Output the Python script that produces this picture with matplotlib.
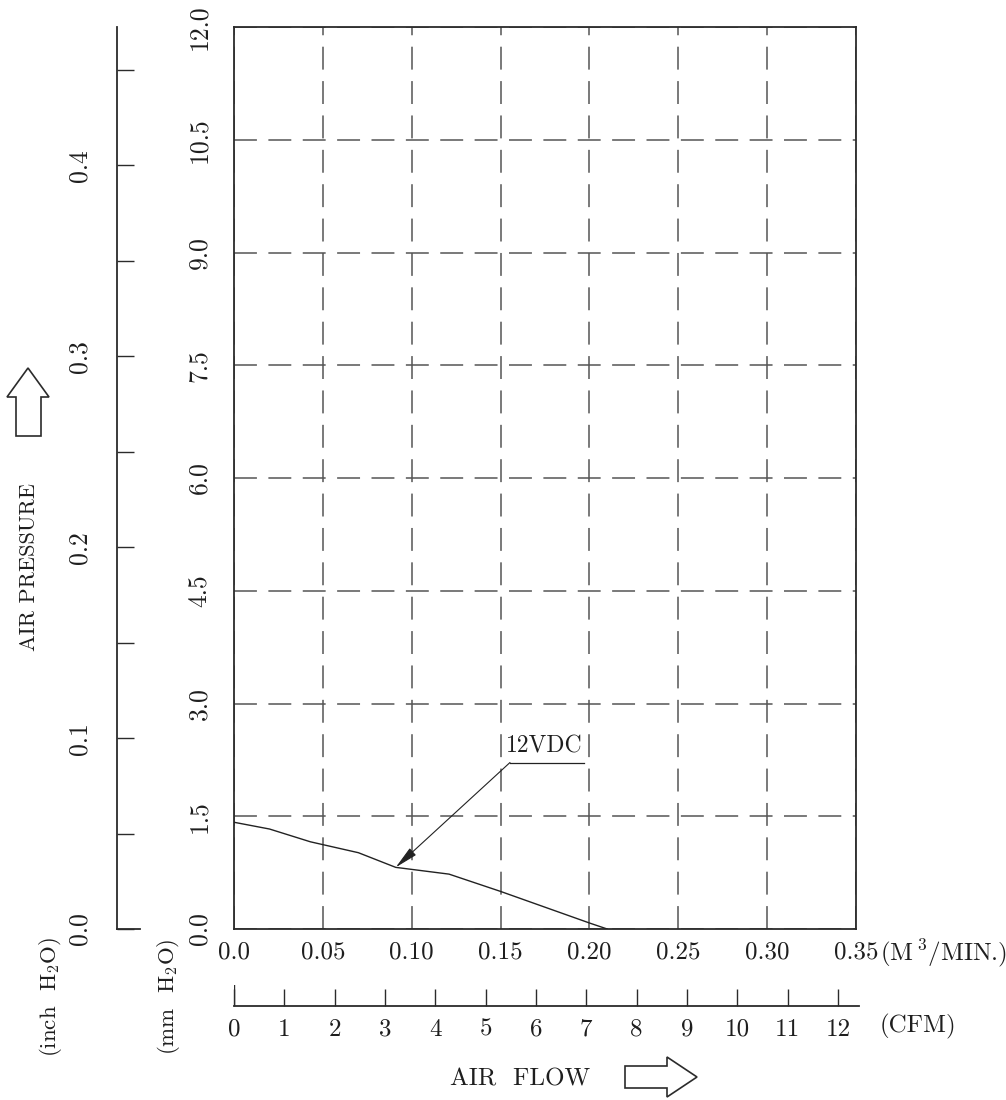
import numpy as np
import matplotlib
matplotlib.use("Agg")
import matplotlib.pyplot as plt
from matplotlib.patches import Polygon

# ---------------- data ----------------
flow_m3min = [0.0, 0.020, 0.043, 0.070, 0.091, 0.121, 0.150, 0.200, 0.210]
pressure_mm = [1.42, 1.33, 1.16, 1.015, 0.82, 0.73, 0.50, 0.08, 0.0]
series_label = "12VDC"
label_anchor = (0.1553, 2.215)     # where the leader line leaves the label
label_line_end = 0.197
arrow_point_index = 4

x_ticks = [0.0, 0.05, 0.10, 0.15, 0.20, 0.25, 0.30, 0.35]
x_ticklabels = ["0.0", "0.05", "0.10", "0.15", "0.20", "0.25", "0.30", "0.35"]
y_ticks = [0.0, 1.5, 3.0, 4.5, 6.0, 7.5, 9.0, 10.5, 12.0]
y_ticklabels = ["0.0", "1.5", "3.0", "4.5", "6.0", "7.5", "9.0", "10.5", "12.0"]
inch_ticks = [0.0, 0.05, 0.10, 0.15, 0.20, 0.25, 0.30, 0.35, 0.40, 0.45]
inch_ticklabels = ["0.0", "", "0.1", "", "0.2", "", "0.3", "", "0.4", ""]
cfm_ticks = list(range(0, 13))
cfm_ticklabels = [str(v) for v in cfm_ticks]

MM_PER_INCH = 25.4
CFM_PER_M3MIN = 35.3147

# ---------------- style ----------------
W, H = 1006, 1100
plt.rcParams['font.family'] = ['cmr10', 'DejaVu Serif']
plt.rcParams['mathtext.fontset'] = 'cm'
plt.rcParams['axes.unicode_minus'] = False
FS = 18
FSR = 18.5
FST = 16
INK = '#2b2b2b'
GRID = '#555555'
TC = '#1e1e1e'

fig = plt.figure(figsize=(W / 100, H / 100), dpi=100)

def fx(x):
    return x / W

def fy(y):
    return 1 - y / H

L, R, T, B = 234, 856, 27, 929
ax = fig.add_axes([fx(L), fy(B), (R - L) / W, (B - T) / H])
ax.set_xlim(0, 0.35)
ax.set_ylim(0, 12)
ax.set_xticks(x_ticks)
ax.set_xticklabels(x_ticklabels)
ax.set_yticks(y_ticks)
ax.set_yticklabels(y_ticklabels, rotation=90, va='center')
ax.tick_params(axis='both', length=0, colors=TC)
ax.tick_params(axis='x', pad=9, labelsize=FS)
ax.tick_params(axis='y', pad=16.5, labelsize=FSR)
for s in ax.spines.values():
    s.set_color(INK)
    s.set_linewidth(1.3)
ax.grid(True, color=GRID, linestyle=(0, (15, 7.5)), linewidth=1.1)
ax.set_axisbelow(True)

ax.plot(flow_m3min, pressure_mm, color='#222222', linewidth=1.0, zorder=3)

tip = (flow_m3min[arrow_point_index], pressure_mm[arrow_point_index])
ax.annotate("", xy=tip, xytext=label_anchor,
            arrowprops=dict(arrowstyle='-|>,head_length=1.1,head_width=0.22',
                            mutation_scale=13, color='#222222', lw=0.8,
                            shrinkA=0, shrinkB=0), zorder=4)
ax.plot([label_anchor[0], label_line_end], [label_anchor[1], label_anchor[1]],
        color='#222222', linewidth=0.9, zorder=4)
ax.text((label_anchor[0] + label_line_end) / 2 - 0.0015, label_anchor[1] + 0.07,
        series_label, ha='center', va='bottom', fontsize=17, color=TC)

# ---------------- inch H2O axis ----------------
IL = 117
ax2 = fig.add_axes([fx(IL), fy(B), 23 / W, (B - T) / H])
ax2.set_ylim(0, 12 / MM_PER_INCH)
ax2.set_xticks([])
ax2.set_yticks(inch_ticks)
ax2.set_yticklabels(inch_ticklabels, rotation=90, va='center')
ax2.tick_params(axis='y', direction='in', length=12.2, width=1.0, color=INK,
                labelsize=FSR, pad=18, labelcolor=TC)
for k in ('top', 'right'):
    ax2.spines[k].set_visible(False)
for k in ('left', 'bottom'):
    ax2.spines[k].set_color(INK)
    ax2.spines[k].set_linewidth(1.3)
ax2.patch.set_visible(False)

# ---------------- CFM axis ----------------
CY = 1006
ax3 = fig.add_axes([fx(L), fy(CY), (859 - L) / W, 21 / H])
ax3.set_xlim(0, 0.35 * CFM_PER_M3MIN * (859 - L) / (R - L))
ax3.set_ylim(0, 1)
ax3.set_yticks([])
ax3.set_xticks(cfm_ticks)
ax3.set_xticklabels(cfm_ticklabels)
ax3.tick_params(axis='x', direction='in', length=12.2, width=1.0, color=INK,
                labelsize=FS, pad=9, labelcolor=TC)
for k in ('top', 'right', 'left'):
    ax3.spines[k].set_visible(False)
ax3.spines['bottom'].set_color(INK)
ax3.spines['bottom'].set_linewidth(1.3)
ax3.axvline(0, 0, 1, color=INK, linewidth=1.0)
ax3.patch.set_visible(False)

# ---------------- labels ----------------
fig.text(fx(880), fy(953), r"(M$\,^{3}$/MIN.)", ha='left', va='center',
         fontsize=FS, color=TC)
fig.text(fx(918), fy(1026), "(CFM)", ha='center', va='center', fontsize=FS, color=TC)
fig.text(fx(520), fy(1079), "AIR  FLOW", ha='center', va='center', fontsize=FS, color=TC)
fig.text(fx(29), fy(567), "AIR PRESSURE", ha='center', va='center', rotation=90,
         fontsize=FST, color=TC)
fig.text(fx(50), fy(997), r"(inch  H$_{2}$O)", ha='center', va='center', rotation=90,
         fontsize=FST + 0.5, color=TC)
fig.text(fx(169), fy(997), r"(mm  H$_{2}$O)", ha='center', va='center', rotation=90,
         fontsize=FST + 0.5, color=TC)

# hollow block arrows
up = [(28, 368), (7, 397), (16, 397), (16, 436), (41, 436), (41, 397), (49, 397)]
right = [(625, 1066), (667, 1066), (667, 1057), (697, 1077), (667, 1097), (667, 1088), (625, 1088)]
for pts in (up, right):
    fig.patches.append(Polygon([(fx(a), fy(b)) for a, b in pts], closed=True,
                               transform=fig.transFigure, facecolor='white',
                               edgecolor=INK, linewidth=1.2))

fig.savefig("out.png", dpi=100, facecolor='white')
